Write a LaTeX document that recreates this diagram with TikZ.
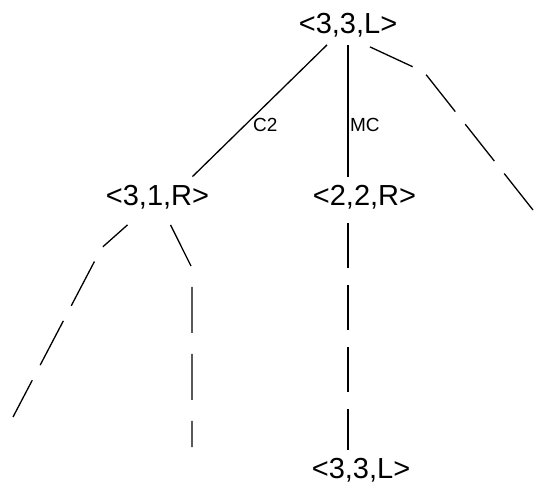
\documentclass[tikz,border=0pt]{standalone}
\usepackage{fontspec}
\setmainfont{Liberation Sans}
\usetikzlibrary{positioning,calc}
\definecolor{ink}{RGB}{0,0,0}
\tikzset{
  state/.style={text=ink, inner sep=8pt, font=\fontsize{29}{34}\selectfont},
  lbl/.style={text=ink, inner sep=0.5pt, font=\fontsize{19}{22}\selectfont},
  move/.style={draw=ink, line width=1.3pt},
  trail/.style={draw=ink, line width=1.3pt, dash pattern=on 46pt off 16pt},
}

\begin{document}
\begin{tikzpicture}[x=1pt,y=-1pt]
  \useasboundingbox (0,0) rectangle (534,485);
  % states
  \node[state, anchor=base] (root) at (348,33) {<3,3,L>};
  \node[state, anchor=base] (n31) at (157.5,205) {<3,1,R>};
  \node[state, anchor=base] (n22) at (364.5,205) {<2,2,R>};
  \node[state, anchor=base] (n33) at (361,478) {<3,3,L>};
  % loose ends of the unexplored branches
  \coordinate (rbend) at (424,72);
  \coordinate (rend) at (533,210);
  \coordinate (lbend) at (101.5,248);
  \coordinate (lend) at (13,417);
  \coordinate (mbend) at (192,268);
  \coordinate (mend) at (192,447);
  % moves
  \draw[move] ([xshift=-21pt]root.south) -- node[lbl, pos=0.61, right=7pt] {C2} ([xshift=35pt]n31.north);
  \draw[move] (root.south) -- node[lbl, pos=0.61, right=1pt] {MC} (root.south |- n22.north);
  \draw[trail, dash pattern=on 47pt off 16pt] ([xshift=22pt,yshift=-2pt]root.south) -- (rbend) -- (rend);
  \draw[trail, dash pattern=on 50pt off 17pt, dash phase=17pt] ([xshift=-30pt,yshift=-8pt]n31.south) -- (lbend) -- (lend);
  \draw[trail, dash pattern=on 46pt off 21pt] ([xshift=13pt,yshift=-8pt]n31.south) -- (mbend) -- (mend);
  \draw[trail, dash pattern=on 45.5pt off 16.5pt] ([xshift=-16.5pt,yshift=-6pt]n22.south) -- ([xshift=-16.5pt]n22.south |- n33.north);
\end{tikzpicture}
\end{document}
